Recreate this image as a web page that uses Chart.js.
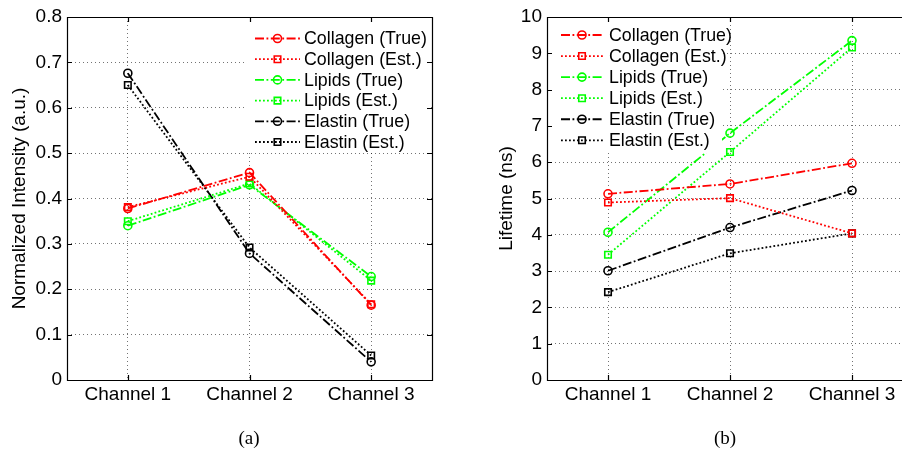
<!DOCTYPE html>
<html>
<head>
<meta charset="utf-8">
<script src="https://cdn.jsdelivr.net/npm/chart.js@4.4.0/dist/chart.umd.min.js"></script>
<style>
    html, body { margin: 0; padding: 0; background: #fff; width: 902px; height: 452px; overflow: hidden; position: relative; }
    canvas { position: absolute; top: 0; }
    #intensityChart { left: 0; }
    #lifetimeChart { left: 480px; }
    .caption { position: absolute; top: 427px; font-family: "Liberation Serif", "Times New Roman", serif; font-size: 19px; transform: translateX(-50%); }
</style>
</head>
<body>
<canvas id="intensityChart" width="480" height="452"></canvas>
<canvas id="lifetimeChart" width="480" height="452"></canvas>
<div class="caption" style="left:249px">(a)</div>
<div class="caption" style="left:725px">(b)</div>
<script>
const channels = ['Channel 1', 'Channel 2', 'Channel 3'];
const seriesLabels = ['Collagen (True)', 'Collagen (Est.)', 'Lipids (True)', 'Lipids (Est.)', 'Elastin (True)', 'Elastin (Est.)'];

// (a) normalized intensity
const collagenTrueInt = [0.378, 0.457, 0.165];
const collagenEstInt  = [0.381, 0.448, 0.167];
const lipidsTrueInt   = [0.340, 0.430, 0.228];
const lipidsEstInt    = [0.350, 0.433, 0.219];
const elastinTrueInt  = [0.676, 0.279, 0.040];
const elastinEstInt   = [0.650, 0.292, 0.054];

// (b) lifetime (ns)
const collagenTrueLt = [5.13, 5.40, 5.97];
const collagenEstLt  = [4.89, 5.01, 4.04];
const lipidsTrueLt   = [4.07, 6.80, 9.35];
const lipidsEstLt    = [3.45, 6.28, 9.16];
const elastinTrueLt  = [3.01, 4.20, 5.22];
const elastinEstLt   = [2.42, 3.49, 4.04];

const intensityTicks = [0, 0.1, 0.2, 0.3, 0.4, 0.5, 0.6, 0.7, 0.8];
const lifetimeTicks  = [0, 1, 2, 3, 4, 5, 6, 7, 8, 9, 10];

const FONT = '"Liberation Sans", Arial, Helvetica, sans-serif';
const dashDot = [9, 2.5, 1.8, 2.5];
const dotted = [1.8, 2.2];

function makeDatasets(values) {
    const colors = ['#ff0000', '#ff0000', '#00ff00', '#00ff00', '#000000', '#000000'];
    return values.map((data, i) => {
        const isTrue = i % 2 === 0;
        return {
            label: seriesLabels[i],
            data: data,
            borderColor: colors[i],
            backgroundColor: 'rgba(0,0,0,0)',
            borderWidth: 1.8,
            borderDash: isTrue ? dashDot : dotted,
            pointStyle: isTrue ? 'circle' : 'rect',
            pointRadius: isTrue ? 4 : 4.6,
            pointBorderWidth: 1.6,
            pointBorderColor: colors[i],
            pointBackgroundColor: 'rgba(0,0,0,0)',
            tension: 0,
            fill: false
        };
    });
}

// MATLAB style legend (white box over the data) + axes box with inward ticks
const matlabAxes = {
    id: 'matlabAxes',
    afterDatasetsDraw(chart, args, opts) {
        const ctx = chart.ctx;
        const lg = opts.legend;
        ctx.save();
        ctx.fillStyle = '#fff';
        ctx.fillRect(lg.x, lg.y, lg.w, lg.h);
        ctx.font = lg.fontSize + 'px ' + FONT;
        ctx.textBaseline = 'middle';
        chart.data.datasets.forEach((ds, i) => {
            const y = lg.rowY + i * lg.rowGap;
            ctx.strokeStyle = ds.borderColor;
            ctx.lineWidth = ds.borderWidth;
            ctx.setLineDash(ds.borderDash);
            ctx.beginPath();
            ctx.moveTo(lg.lineX0, y);
            ctx.lineTo(lg.lineX1, y);
            ctx.stroke();
            ctx.setLineDash([]);
            const mx = (lg.lineX0 + lg.lineX1) / 2;
            ctx.lineWidth = ds.pointBorderWidth;
            ctx.beginPath();
            if (ds.pointStyle === 'circle') {
                ctx.arc(mx, y, ds.pointRadius, 0, Math.PI * 2);
            } else {
                const s = ds.pointRadius * Math.SQRT1_2;
                ctx.rect(mx - s, y - s, 2 * s, 2 * s);
            }
            ctx.stroke();
            ctx.fillStyle = '#000';
            ctx.fillText(ds.label, lg.textX, y + 1);
        });
        ctx.restore();
    },
    afterDraw(chart) {
        const ctx = chart.ctx;
        const {left, right, top, bottom} = chart.chartArea;
        const xs = chart.scales.x, ys = chart.scales.y;
        const tl = 5;
        ctx.save();
        ctx.strokeStyle = '#000';
        ctx.lineWidth = 1.2;
        ctx.beginPath();
        ctx.rect(Math.round(left) + 0.5, Math.round(top) + 0.5, Math.round(right - left), Math.round(bottom - top));
        ys.ticks.forEach(t => {
            const py = Math.round(ys.getPixelForValue(t.value)) + 0.5;
            ctx.moveTo(left, py); ctx.lineTo(left + tl, py);
            ctx.moveTo(right, py); ctx.lineTo(right - tl, py);
        });
        xs.ticks.forEach((t, i) => {
            const px = Math.round(xs.getPixelForTick(i)) + 0.5;
            ctx.moveTo(px, bottom); ctx.lineTo(px, bottom - tl);
            ctx.moveTo(px, top); ctx.lineTo(px, top + tl);
        });
        ctx.stroke();
        ctx.restore();
    }
};

function makeChart(id, values, yTicks, yTitle, titlePad, padRight, legend) {
    const ctx = document.getElementById(id).getContext('2d');
    return new Chart(ctx, {
        type: 'line',
        data: {
            labels: channels,
            datasets: makeDatasets(values)
        },
        options: {
            responsive: false,
            animation: false,
            devicePixelRatio: 1,
            layout: {
                padding: { left: 0, right: padRight, top: 17, bottom: 0 }
            },
            scales: {
                x: {
                    type: 'category',
                    offset: true,
                    grid: {
                        offset: false,
                        drawTicks: false,
                        color: 'rgba(0,0,0,0.55)',
                        lineWidth: 1
                    },
                    border: { display: false, dash: [1, 3] },
                    ticks: {
                        padding: 3,
                        color: '#000',
                        font: { size: 19, family: FONT }
                    },
                    afterFit: function(scale) { scale.height = 72; }
                },
                y: {
                    min: yTicks[0],
                    max: yTicks[yTicks.length - 1],
                    afterBuildTicks: function(scale) {
                        scale.ticks = yTicks.map(v => ({ value: v }));
                    },
                    grid: {
                        drawTicks: false,
                        color: 'rgba(0,0,0,0.55)',
                        lineWidth: 1
                    },
                    border: { display: false, dash: [1, 3] },
                    ticks: {
                        padding: 5,
                        color: '#000',
                        font: { size: 19, family: FONT },
                        callback: function(value) { return String(value); }
                    },
                    title: {
                        display: true,
                        text: yTitle,
                        color: '#000',
                        padding: { top: titlePad, bottom: 0 },
                        font: { size: 19, family: FONT }
                    },
                    afterFit: function(scale) { scale.width = 67; }
                }
            },
            plugins: {
                legend: { display: false },
                tooltip: { enabled: false },
                matlabAxes: { legend: legend }
            }
        },
        plugins: [matlabAxes]
    });
}

makeChart('intensityChart',
    [collagenTrueInt, collagenEstInt, lipidsTrueInt, lipidsEstInt, elastinTrueInt, elastinEstInt],
    intensityTicks, 'Normalized Intensity (a.u.)', 8, 48,
    { x: 247, y: 21, w: 184, h: 132, lineX0: 255, lineX1: 300, textX: 304, rowY: 38.5, rowGap: 20.7, fontSize: 17.8 });

makeChart('lifetimeChart',
    [collagenTrueLt, collagenEstLt, lipidsTrueLt, lipidsEstLt, elastinTrueLt, elastinEstLt],
    lifetimeTicks, 'Lifetime (ns)', 15, 47,
    { x: 69, y: 19, w: 173, h: 134, lineX0: 81, lineX1: 123, textX: 129, rowY: 35, rowGap: 21.06, fontSize: 17.8 });
</script>
</body>
</html>
